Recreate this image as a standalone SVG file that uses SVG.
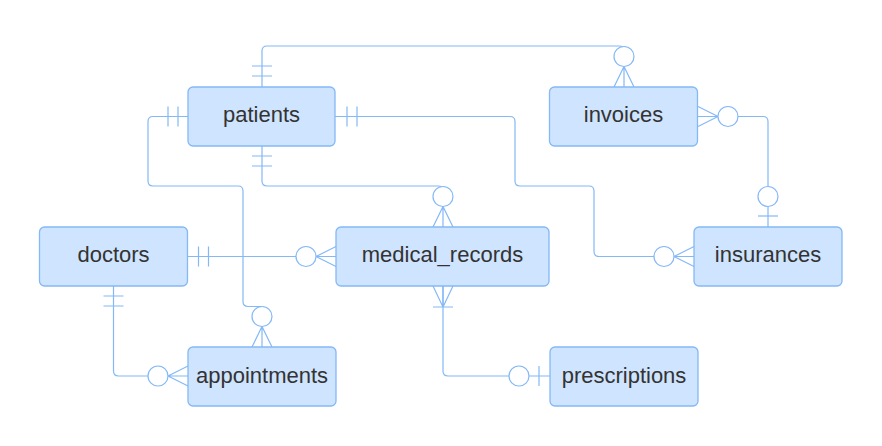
<svg xmlns="http://www.w3.org/2000/svg" width="882" height="446" viewBox="0 0 882 446">
<style>
.box{fill:#cfe4fe;stroke:#84b8f6;stroke-width:1.3}
.lbl{font-family:"Liberation Sans",Arial,sans-serif;font-size:22px;fill:#333;text-anchor:middle}
.ln{fill:none;stroke:#84b8f6;stroke-width:1.2}
.c{fill:#fff;stroke:#84b8f6;stroke-width:1.2}
</style>
<rect width="882" height="446" fill="#fff"/>
<g id="connectors">
<!-- patients - invoices -->
<path class="ln" d="M262,87 V51 Q262,46 267,46 H619 Q624,46 624,51 V56"/>
<path class="ln" d="M252,66 H272 M252,76 H272"/>
<circle class="c" cx="624" cy="56.5" r="10"/>
<path class="ln" d="M624,66.5 L614,87 M624,66.5 V87 M624,66.5 L634,87"/>
<!-- patients - medical_records -->
<path class="ln" d="M262,146 V181 Q262,186 267,186 H438 Q443,186 443,191 V196"/>
<path class="ln" d="M252,156 H272 M252,166 H272"/>
<circle class="c" cx="443" cy="196.5" r="10"/>
<path class="ln" d="M443,206.5 L433,227 M443,206.5 V227 M443,206.5 L453,227"/>
<!-- patients - appointments -->
<path class="ln" d="M188,116.5 H153 Q148,116.5 148,121.5 V181 Q148,186 153,186 H238 Q243,186 243,191 V301.5 Q243,306.5 248,306.5 H262"/>
<path class="ln" d="M168,106.5 V126.5 M178,106.5 V126.5"/>
<circle class="c" cx="262" cy="316.5" r="10"/>
<path class="ln" d="M262,326.5 L252,347 M262,326.5 V347 M262,326.5 L272,347"/>
<!-- patients - insurances -->
<path class="ln" d="M335,116.5 H510 Q515,116.5 515,121.5 V181 Q515,186 520,186 H589 Q594,186 594,191 V251.5 Q594,256.5 599,256.5 H654"/>
<path class="ln" d="M347,106.5 V126.5 M357,106.5 V126.5"/>
<circle class="c" cx="664" cy="256.5" r="10"/>
<path class="ln" d="M674,256.5 L694,246.5 M674,256.5 H694 M674,256.5 L694,266.5"/>
<!-- invoices - insurances -->
<path class="ln" d="M738,116.5 H763 Q768,116.5 768,121.5 V186 M768,206.5 V227"/>
<path class="ln" d="M698,106.5 L718,116.5 M698,116.5 H718 M698,126.5 L718,116.5"/>
<circle class="c" cx="728" cy="116.5" r="10"/>
<circle class="c" cx="768" cy="196.5" r="10"/>
<path class="ln" d="M758,216 H778"/>
<!-- doctors - medical_records -->
<path class="ln" d="M188,256.5 H296"/>
<path class="ln" d="M198.5,246.5 V266.5 M208.5,246.5 V266.5"/>
<circle class="c" cx="306" cy="256.5" r="10"/>
<path class="ln" d="M316,256.5 L336,246.5 M316,256.5 H336 M316,256.5 L336,266.5"/>
<!-- doctors - appointments -->
<path class="ln" d="M113.5,286 V371 Q113.5,376 118.5,376 H148"/>
<path class="ln" d="M103.5,296 H123.5 M103.5,306 H123.5"/>
<circle class="c" cx="158" cy="376" r="10"/>
<path class="ln" d="M168,376 L188,366 M168,376 H188 M168,376 L188,386"/>
<!-- medical_records - prescriptions -->
<path class="ln" d="M443,286 V371 Q443,376 448,376 H509 M529,376 H550"/>
<path class="ln" d="M433,286 L443,307 M443,286 V307 M453,286 L443,307 M433,307 H453"/>
<circle class="c" cx="519" cy="376" r="10"/>
<path class="ln" d="M539,366 V386"/>
</g>
<g id="patients"><rect class="box" x="188" y="87" width="147" height="59" rx="5"/><text class="lbl" x="261.5" y="122.3">patients</text></g>
<g id="invoices"><rect class="box" x="549.5" y="87" width="148" height="59" rx="5"/><text class="lbl" x="623.5" y="122.3">invoices</text></g>
<g id="doctors"><rect class="box" x="39.5" y="227" width="148" height="59" rx="5"/><text class="lbl" x="113.5" y="262.3">doctors</text></g>
<g id="medical_records"><rect class="box" x="336" y="227" width="213" height="59" rx="5"/><text class="lbl" x="442.5" y="262.3">medical_records</text></g>
<g id="insurances"><rect class="box" x="694" y="227" width="148" height="59" rx="5"/><text class="lbl" x="768" y="262.3">insurances</text></g>
<g id="appointments"><rect class="box" x="188" y="347" width="148" height="59" rx="5"/><text class="lbl" x="262" y="382.5">appointments</text></g>
<g id="prescriptions"><rect class="box" x="550" y="347" width="148" height="59" rx="5"/><text class="lbl" x="624" y="382.5">prescriptions</text></g>
</svg>
